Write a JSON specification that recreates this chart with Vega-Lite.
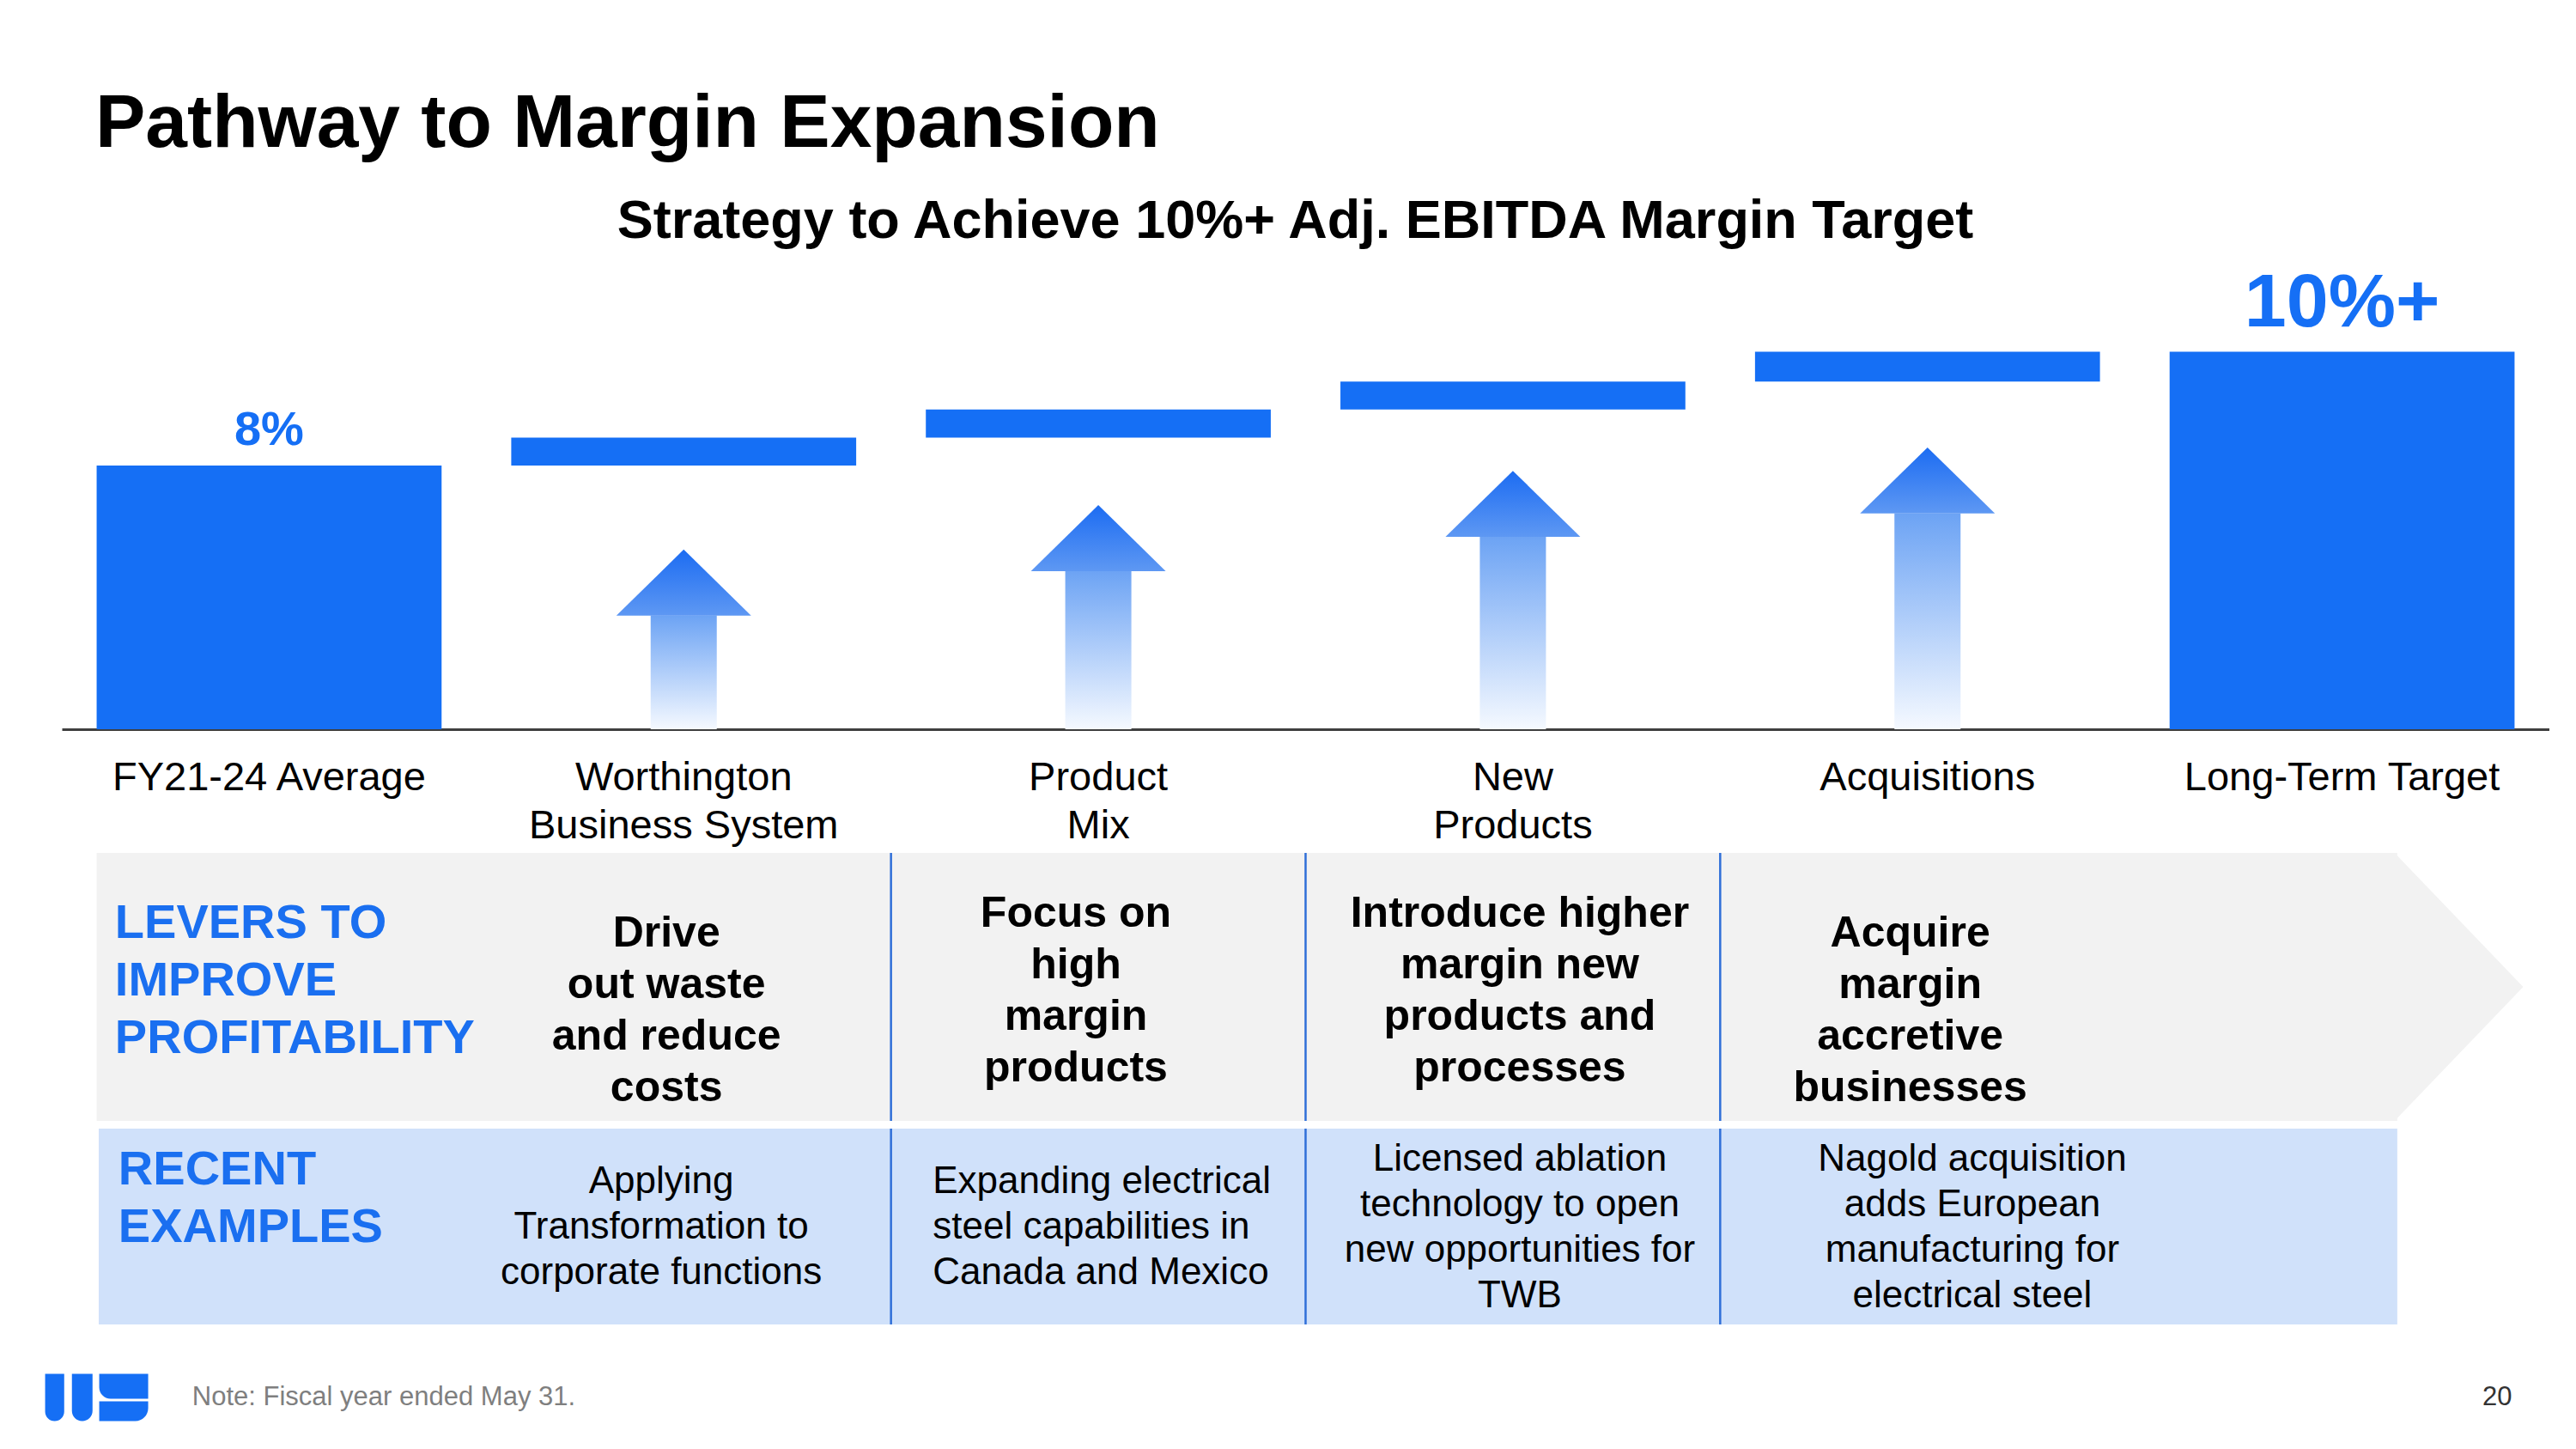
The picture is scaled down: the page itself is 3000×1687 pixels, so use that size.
{
  "$schema": "https://vega.github.io/schema/vega-lite/v6.json",
  "background": "white",
  "padding": {"left": 52, "top": 100, "right": 0, "bottom": 0},
  "config": {
    "view": {"stroke": null},
    "font": "Liberation Sans",
    "text": {"font": "Liberation Sans"},
    "title": {"font": "Liberation Sans"},
    "axis": {"labelFont": "Liberation Sans"}
  },
  "datasets": {
    "steps": [
      {"category": "FY21-24 Average", "start": 0, "end": 8, "label": "8%"},
      {"category": "Worthington Business System", "start": 8, "end": 8.85},
      {"category": "Product Mix", "start": 8.85, "end": 9.7},
      {"category": "New Products", "start": 9.7, "end": 10.55},
      {"category": "Acquisitions", "start": 10.55, "end": 11.45},
      {"category": "Long-Term Target", "start": 0, "end": 11.45, "label": "10%+"}
    ],
    "arrows": [
      {"category": "Worthington Business System", "base": 3.45, "tip": 5.45},
      {"category": "Product Mix", "base": 4.8, "tip": 6.8},
      {"category": "New Products", "base": 5.84, "tip": 7.84},
      {"category": "Acquisitions", "base": 6.55, "tip": 8.55}
    ],
    "panel": [{"from": "FY21-24 Average", "to": "Long-Term Target"}],
    "dividers": [
      {"category": "Product Mix"},
      {"category": "New Products"},
      {"category": "Acquisitions"}
    ],
    "headers": [
      {"row": "levers", "category": "FY21-24 Average", "text": "LEVERS TO\nIMPROVE\nPROFITABILITY"},
      {"row": "examples", "category": "FY21-24 Average", "text": "RECENT\nEXAMPLES"}
    ],
    "levers": [
      {"category": "Worthington Business System", "text": "Drive\nout waste\nand reduce\ncosts"},
      {"category": "Product Mix", "text": "Focus on\nhigh\nmargin\nproducts"},
      {"category": "New Products", "text": "Introduce higher\nmargin new\nproducts and\nprocesses"},
      {"category": "Acquisitions", "text": "Acquire\nmargin\naccretive\nbusinesses"}
    ],
    "examples": [
      {"category": "Worthington Business System", "text": "Applying\nTransformation to\ncorporate functions"},
      {"category": "Product Mix", "text": "Expanding electrical\nsteel capabilities in\nCanada and Mexico"},
      {"category": "New Products", "text": "Licensed ablation\ntechnology to open\nnew opportunities for\nTWB"},
      {"category": "Acquisitions", "text": "Nagold acquisition\nadds European\nmanufacturing for\nelectrical steel"}
    ],
    "footer": [
      {"item": "logo", "category": "FY21-24 Average"},
      {"item": "note", "category": "FY21-24 Average", "text": "Note: Fiscal year ended May 31."},
      {"item": "page", "category": "Long-Term Target", "text": "20"}
    ]
  },
  "title": {
    "text": "Pathway to Margin Expansion",
    "anchor": "start",
    "frame": "group",
    "dx": 39,
    "offset": 38,
    "fontSize": 87.5,
    "fontWeight": "bold",
    "color": "#000000"
  },
  "spacing": 7,
  "vconcat": [
    {
      "width": 2897,
      "height": 548,
      "title": {
        "text": "Strategy to Achieve 10%+ Adj. EBITDA Margin Target",
        "anchor": "middle",
        "frame": "group",
        "dx": -12,
        "offset": 11,
        "fontSize": 63,
        "fontWeight": "bold",
        "color": "#000000"
      },
      "layer": [
        {
          "data": {"name": "steps"},
          "mark": {"type": "bar", "color": "#156ff5"},
          "encoding": {
            "x": {
              "field": "category", "type": "nominal",
              "scale": {"type": "band", "domain": ["FY21-24 Average", "Worthington Business System", "Product Mix", "New Products", "Acquisitions", "Long-Term Target"], "paddingInner": 0.168, "paddingOuter": 0.084},
              "axis": {
                "title": null, "orient": "bottom",
                "domainColor": "#3f3f3f", "domainWidth": 3,
                "ticks": false, "tickSize": 0,
                "labelPadding": 33, "labelBaseline": "top",
                "labelFontSize": 47, "labelColor": "#000000",
                "labelLineHeight": 56, "labelAngle": 0, "labelLimit": 0, "labelOverlap": false,
                "labelExpr": "datum.value == 'Worthington Business System' ? ['Worthington', 'Business System'] : datum.value == 'Product Mix' ? ['Product', 'Mix'] : datum.value == 'New Products' ? ['New', 'Products'] : datum.label"
              }
            },
            "y": {"field": "end", "type": "quantitative", "scale": {"domain": [0, 14.28], "nice": false, "zero": true}, "axis": null},
            "y2": {"field": "start"}
          }
        },
        {
          "data": {"name": "arrows"},
          "mark": {
            "type": "bar", "width": 77,
            "color": {"gradient": "linear", "x1": 0, "y1": 0, "x2": 0, "y2": 1,
              "stops": [{"offset": 0, "color": "#6ca3f4"}, {"offset": 1, "color": "#f5f9ff"}]}
          },
          "encoding": {
            "x": {"field": "category", "type": "nominal"},
            "y": {"field": "base", "type": "quantitative", "scale": {"domain": [0, 14.28], "nice": false, "zero": true}, "axis": null}
          }
        },
        {
          "data": {"name": "arrows"},
          "mark": {
            "type": "point", "shape": "M0,0 L1,0.98 L-1,0.98 Z", "size": 24649,
            "filled": true, "opacity": 1, "strokeWidth": 0,
            "fill": {"gradient": "linear", "x1": 0, "y1": 0, "x2": 0, "y2": 1,
              "stops": [{"offset": 0, "color": "#1c6cf2"}, {"offset": 1, "color": "#5e98f3"}]}
          },
          "encoding": {
            "x": {"field": "category", "type": "nominal"},
            "y": {"field": "tip", "type": "quantitative", "scale": {"domain": [0, 14.28], "nice": false, "zero": true}, "axis": null}
          }
        },
        {
          "data": {"name": "steps"},
          "transform": [{"filter": "datum.category == 'FY21-24 Average'"}],
          "mark": {"type": "text", "fontSize": 56, "fontWeight": "bold", "color": "#156ff5", "baseline": "alphabetic", "dy": -24},
          "encoding": {
            "x": {"field": "category", "type": "nominal"},
            "y": {"field": "end", "type": "quantitative", "scale": {"domain": [0, 14.28], "nice": false, "zero": true}, "axis": null},
            "text": {"field": "label"}
          }
        },
        {
          "data": {"name": "steps"},
          "transform": [{"filter": "datum.category == 'Long-Term Target'"}],
          "mark": {"type": "text", "fontSize": 88, "fontWeight": "bold", "color": "#156ff5", "baseline": "alphabetic", "dy": -30},
          "encoding": {
            "x": {"field": "category", "type": "nominal"},
            "y": {"field": "end", "type": "quantitative", "scale": {"domain": [0, 14.28], "nice": false, "zero": true}, "axis": null},
            "text": {"field": "label"}
          }
        }
      ]
    },
    {
      "spacing": 5,
      "vconcat": [
        {
          "width": 2897,
          "height": 312,
          "layer": [
            {
              "data": {"name": "panel"},
              "mark": {"type": "rect", "color": "#f2f2f2"},
              "encoding": {
                "x": {"field": "from", "type": "nominal", "bandPosition": 0,
                  "scale": {"type": "band", "domain": ["FY21-24 Average", "Worthington Business System", "Product Mix", "New Products", "Acquisitions", "Long-Term Target"], "paddingInner": 0.168, "paddingOuter": 0.084},
                  "axis": null},
                "x2": {"field": "to", "bandPosition": 0.66}
              }
            },
            {
              "data": {"name": "panel"},
              "mark": {"type": "point", "shape": "M-0.02,-1 L0.94,0 L-0.02,1 Z", "size": 97344, "filled": true, "opacity": 1, "color": "#f2f2f2", "strokeWidth": 0},
              "encoding": {
                "x": {"field": "to", "type": "nominal", "bandPosition": 0.66}
              }
            },
            {
              "data": {"name": "dividers"},
              "mark": {"type": "rule", "color": "#2f6fd8", "strokeWidth": 2.5},
              "encoding": {
                "x": {"field": "category", "type": "nominal", "bandPosition": -0.101}
              }
            },
            {
              "data": {"name": "headers"},
              "transform": [{"filter": "datum.row == 'levers'"}],
              "mark": {"type": "text", "align": "left", "baseline": "middle", "lineBreak": "\n", "lineHeight": 67, "fontSize": 56, "fontWeight": "bold", "color": "#1a6ff0", "dy": -74},
              "encoding": {
                "x": {"field": "category", "type": "nominal", "bandPosition": 0.053},
                "text": {"field": "text"}
              }
            },
            {
              "data": {"name": "levers"},
              "transform": [{"filter": "datum.category == 'Worthington Business System' || datum.category == 'Acquisitions'"}],
              "mark": {"type": "text", "align": "center", "baseline": "middle", "lineBreak": "\n", "lineHeight": 60, "fontSize": 50, "fontWeight": "bold", "color": "#000000", "dy": -62},
              "encoding": {
                "x": {"field": "category", "type": "nominal", "bandPosition": 0.45},
                "text": {"field": "text"}
              }
            },
            {
              "data": {"name": "levers"},
              "transform": [{"filter": "datum.category == 'Product Mix'"}],
              "mark": {"type": "text", "align": "center", "baseline": "middle", "lineBreak": "\n", "lineHeight": 60, "fontSize": 50, "fontWeight": "bold", "color": "#000000", "dy": -85},
              "encoding": {
                "x": {"field": "category", "type": "nominal", "bandPosition": 0.435},
                "text": {"field": "text"}
              }
            },
            {
              "data": {"name": "levers"},
              "transform": [{"filter": "datum.category == 'New Products'"}],
              "mark": {"type": "text", "align": "center", "baseline": "middle", "lineBreak": "\n", "lineHeight": 60, "fontSize": 50, "fontWeight": "bold", "color": "#000000", "dy": -85},
              "encoding": {
                "x": {"field": "category", "type": "nominal", "bandPosition": 0.52},
                "text": {"field": "text"}
              }
            }
          ]
        },
        {
          "width": 2897,
          "height": 228,
          "layer": [
            {
              "data": {"name": "panel"},
              "mark": {"type": "rect", "color": "#d0e1fa"},
              "encoding": {
                "x": {"field": "from", "type": "nominal", "bandPosition": 0.006,
                  "scale": {"type": "band", "domain": ["FY21-24 Average", "Worthington Business System", "Product Mix", "New Products", "Acquisitions", "Long-Term Target"], "paddingInner": 0.168, "paddingOuter": 0.084},
                  "axis": null},
                "x2": {"field": "to", "bandPosition": 0.66}
              }
            },
            {
              "data": {"name": "dividers"},
              "mark": {"type": "rule", "color": "#2f6fd8", "strokeWidth": 2.5},
              "encoding": {
                "x": {"field": "category", "type": "nominal", "bandPosition": -0.101}
              }
            },
            {
              "data": {"name": "headers"},
              "transform": [{"filter": "datum.row == 'examples'"}],
              "mark": {"type": "text", "align": "left", "baseline": "middle", "lineBreak": "\n", "lineHeight": 67, "fontSize": 56, "fontWeight": "bold", "color": "#1a6ff0", "dy": -66},
              "encoding": {
                "x": {"field": "category", "type": "nominal", "bandPosition": 0.063},
                "text": {"field": "text"}
              }
            },
            {
              "data": {"name": "examples"},
              "transform": [{"filter": "datum.category == 'Worthington Business System'"}],
              "mark": {"type": "text", "align": "center", "baseline": "middle", "lineBreak": "\n", "lineHeight": 53, "fontSize": 44, "color": "#000000", "dy": -52},
              "encoding": {
                "x": {"field": "category", "type": "nominal", "bandPosition": 0.435},
                "text": {"field": "text"}
              }
            },
            {
              "data": {"name": "examples"},
              "transform": [{"filter": "datum.category == 'Product Mix'"}],
              "mark": {"type": "text", "align": "left", "baseline": "middle", "lineBreak": "\n", "lineHeight": 53, "fontSize": 44, "color": "#000000", "dy": -52},
              "encoding": {
                "x": {"field": "category", "type": "nominal", "bandPosition": 0.02},
                "text": {"field": "text"}
              }
            },
            {
              "data": {"name": "examples"},
              "transform": [{"filter": "datum.category == 'New Products'"}],
              "mark": {"type": "text", "align": "center", "baseline": "middle", "lineBreak": "\n", "lineHeight": 53, "fontSize": 44, "color": "#000000", "dy": -78},
              "encoding": {
                "x": {"field": "category", "type": "nominal", "bandPosition": 0.52},
                "text": {"field": "text"}
              }
            },
            {
              "data": {"name": "examples"},
              "transform": [{"filter": "datum.category == 'Acquisitions'"}],
              "mark": {"type": "text", "align": "center", "baseline": "middle", "lineBreak": "\n", "lineHeight": 53, "fontSize": 44, "color": "#000000", "dy": -78},
              "encoding": {
                "x": {"field": "category", "type": "nominal", "bandPosition": 0.63},
                "text": {"field": "text"}
              }
            }
          ]
        }
      ]
    },
    {
      "width": 2897,
      "height": 152,
      "layer": [
        {
          "data": {"name": "footer"},
          "transform": [{"filter": "datum.item == 'logo'"}],
          "mark": {
            "type": "point", "size": 14400, "filled": true, "opacity": 1, "strokeWidth": 0, "color": "#156ff5",
            "shape": "M-1,-0.46 L-0.63,-0.46 L-0.63,0.275 A0.185,0.185 0 0 1 -1,0.275 Z M-0.48,-0.46 L-0.08,-0.46 L-0.08,0.26 A0.2,0.2 0 0 1 -0.48,0.26 Z M0.05,-0.46 L1,-0.46 L1,0.025 L0.27,0.025 A0.22,0.22 0 0 1 0.05,-0.195 Z M0.05,0.075 L1,0.075 L1,0.21 A0.25,0.25 0 0 1 0.75,0.46 L0.05,0.46 Z"
          },
          "encoding": {
            "x": {"field": "category", "type": "nominal", "bandPosition": 0,
              "scale": {"type": "band", "domain": ["FY21-24 Average", "Worthington Business System", "Product Mix", "New Products", "Acquisitions", "Long-Term Target"], "paddingInner": 0.168, "paddingOuter": 0.084},
              "axis": null}
          }
        },
        {
          "data": {"name": "footer"},
          "transform": [{"filter": "datum.item == 'note'"}],
          "mark": {"type": "text", "align": "left", "baseline": "middle", "fontSize": 31, "color": "#7f7f7f"},
          "encoding": {
            "x": {"field": "category", "type": "nominal", "bandPosition": 0.277},
            "text": {"field": "text"}
          }
        },
        {
          "data": {"name": "footer"},
          "transform": [{"filter": "datum.item == 'page'"}],
          "mark": {"type": "text", "align": "center", "baseline": "middle", "fontSize": 31, "color": "#333333"},
          "encoding": {
            "x": {"field": "category", "type": "nominal", "bandPosition": 0.95},
            "text": {"field": "text"}
          }
        }
      ]
    }
  ]
}
